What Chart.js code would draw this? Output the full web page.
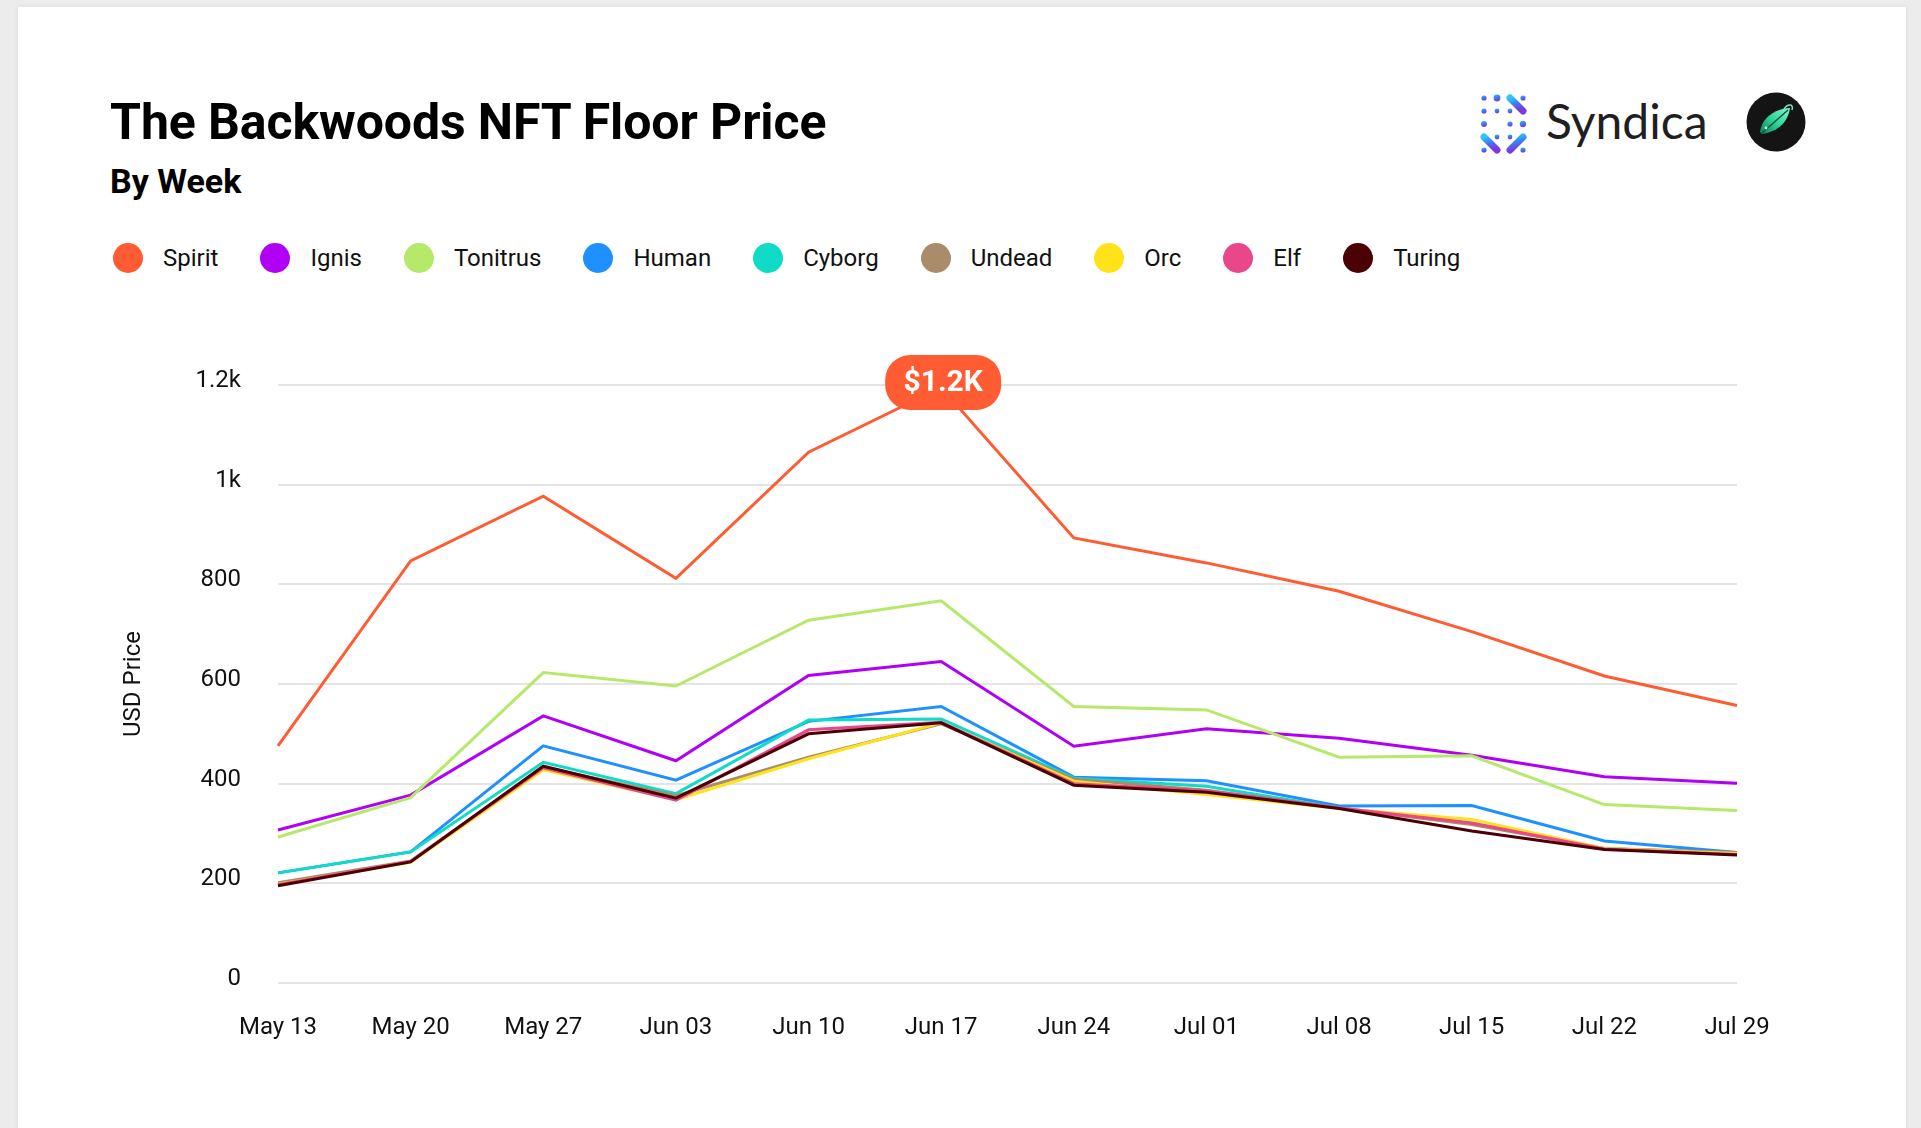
<!DOCTYPE html>
<html>
<head>
<meta charset="utf-8">
<script src="https://cdn.jsdelivr.net/npm/chart.js@4.4.1/dist/chart.umd.min.js"></script>
<style>
html,body{margin:0;padding:0;width:1921px;height:1128px;overflow:hidden;background:#ececec;font-family:Roboto,sans-serif;}
#card{position:absolute;left:18px;top:7px;width:1888px;height:1140px;background:#fff;box-shadow:0 0 5px rgba(0,0,0,0.07);}
#title{position:absolute;left:110px;top:97px;font:700 50px/50px Roboto;color:#000;white-space:nowrap;letter-spacing:-0.1px;}
#sub{position:absolute;left:110px;top:164px;font:700 34px/34px Roboto;color:#000;white-space:nowrap;}
#legend{position:absolute;left:113px;top:243px;height:30px;display:flex;align-items:center;}
.item{display:flex;align-items:center;margin-right:42px;}
.dot{width:30px;height:30px;border-radius:50%;margin-right:20px;}
.lbl{font:400 24px/24px Roboto;color:#111;white-space:nowrap;}
#syn{position:absolute;left:1479px;top:92px;}
#synText{position:absolute;left:1546px;top:97px;font:400 48px/48px Lato;color:#1f1f1f;white-space:nowrap;}
#badge{position:absolute;left:1746px;top:92px;}
#chart{position:absolute;left:0;top:0;}
</style>
</head>
<body>
<div id="card"></div>
<div id="title">The Backwoods NFT Floor Price</div>
<div id="sub">By Week</div>
<div id="legend"></div>
<svg id="syn" width="52" height="62" viewBox="0 0 52 62">
  <defs>
    <linearGradient id="sg" x1="0" y1="0" x2="0.3" y2="1">
      <stop offset="0" stop-color="#2cc9f5"/>
      <stop offset="0.5" stop-color="#3b7ff0"/>
      <stop offset="1" stop-color="#7a3ae0"/>
    </linearGradient>
  </defs>
  <g fill="url(#sg)" stroke="url(#sg)" stroke-linecap="round">
    <circle cx="5" cy="6" r="2.6" stroke="none"/>
    <circle cx="5" cy="19" r="2.6" stroke="none"/>
    <circle cx="18" cy="6" r="3.4" stroke="none"/>
    <line x1="31" y1="6" x2="44" y2="19" stroke-width="7"/>
    <circle cx="44" cy="6" r="2.6" stroke="none"/>
    <circle cx="18" cy="19" r="2.4" stroke="none"/>
    <circle cx="31" cy="19" r="2.4" stroke="none"/>
    <circle cx="5" cy="32" r="3" stroke="none"/>
    <circle cx="31" cy="32" r="2.6" stroke="none"/>
    <circle cx="44" cy="32" r="3.2" stroke="none"/>
    <line x1="5" y1="45" x2="18" y2="58" stroke-width="7"/>
    <circle cx="18" cy="45" r="2.4" stroke="none"/>
    <circle cx="31" cy="45" r="2.4" stroke="none"/>
    <line x1="44" y1="45" x2="31" y2="58" stroke-width="7"/>
    <circle cx="5" cy="58" r="2.6" stroke="none"/>
    <circle cx="44" cy="58" r="2.6" stroke="none"/>
  </g>
</svg>
<div id="synText">Syndica</div>
<svg id="badge" width="60" height="60" viewBox="0 0 60 60">
  <defs>
    <linearGradient id="lg" x1="0" y1="1" x2="1" y2="0">
      <stop offset="0" stop-color="#0c7d5a"/>
      <stop offset="0.5" stop-color="#2fd69a"/>
      <stop offset="1" stop-color="#8af5cf"/>
    </linearGradient>
  </defs>
  <circle cx="30" cy="30" r="29.5" fill="#141414"/>
  <path d="M14 40 C16 26 28 17 44 16 C42 30 32 40 16 42 Z" fill="url(#lg)"/>
  <path d="M16 41 C24 34 32 27 42 18" stroke="#0a4f3a" stroke-width="1.3" fill="none"/>
  <path d="M38 17 C42 11 48 12 46 18" stroke="#6fe8c0" stroke-width="1.5" fill="none"/>
  <circle cx="20" cy="36" r="1.4" fill="#d9fff0"/>
</svg>
<canvas id="chart" width="1921" height="1128"></canvas>
<script>
// ---- data ----
const weeks = ['May 13','May 20','May 27','Jun 03','Jun 10','Jun 17','Jun 24','Jul 01','Jul 08','Jul 15','Jul 22','Jul 29'];
const seriesNames = ['Spirit','Ignis','Tonitrus','Human','Cyborg','Undead','Orc','Elf','Turing'];
const spirit   = [476, 847, 977, 812, 1065, 1195, 893, 843, 786, 705, 616, 557];
const ignis    = [307, 377, 536, 446, 617, 645, 475, 510, 491, 457, 414, 401];
const tonitrus = [293, 372, 623, 596, 728, 767, 555, 548, 453, 456, 358, 346];
const human    = [221, 263, 476, 407, 525, 555, 413, 406, 355, 356, 285, 262];
const cyborg   = [221, 263, 443, 380, 528, 530, 411, 395, 351, 320, 270, 260];
const undead   = [201, 245, 433, 376, 453, 520, 409, 387, 351, 318, 270, 262];
const orc      = [198, 242, 428, 368, 450, 522, 405, 378, 350, 328, 270, 260];
const elf      = [197, 244, 432, 367, 508, 523, 400, 386, 351, 321, 269, 258];
const turing   = [195, 243, 435, 371, 500, 522, 397, 383, 350, 305, 268, 257];
const yTicks   = [0, 200, 400, 600, 800, 1000, 1200];
const seriesColors = ['#ff5c33','#b000f5','#b6e86a','#1e90ff','#0edcc6','#a98c69','#ffe21a','#e8488a','#4a0005'];
const seriesValues = [spirit, ignis, tonitrus, human, cyborg, undead, orc, elf, turing];

// ---- legend ----
const leg = document.getElementById('legend');
seriesNames.forEach((n,i)=>{
  const it = document.createElement('div'); it.className='item';
  const d = document.createElement('div'); d.className='dot'; d.style.background=seriesColors[i];
  const t = document.createElement('div'); t.className='lbl'; t.textContent=n;
  it.appendChild(d); it.appendChild(t); leg.appendChild(it);
});

const peakLabel = {
  id:'peakLabel',
  afterDatasetsDraw(chart){
    const ds = chart.data.datasets[0];
    const vals = ds.data;
    let mi = 0; vals.forEach((v,i)=>{ if(v>vals[mi]) mi=i; });
    const pt = chart.getDatasetMeta(0).data[mi];
    const ctx = chart.ctx;
    const w=116, h=55, r=25;
    const cx = pt.x + 2, cy = pt.y - 5;
    ctx.save();
    ctx.fillStyle = ds.borderColor;
    ctx.beginPath();
    ctx.roundRect(cx-w/2, cy-h/2, w, h, r);
    ctx.fill();
    ctx.fillStyle = '#fff';
    ctx.font = '700 30px Roboto';
    ctx.textAlign = 'center';
    ctx.textBaseline = 'middle';
    ctx.fillText('$' + (vals[mi]/1000).toFixed(1) + 'K', cx, cy+1);
    ctx.restore();
  }
};

function draw(){
  new Chart(document.getElementById('chart'), {
    type:'line',
    data:{
      labels: weeks,
      datasets: seriesNames.map((n,i)=>({
        label:n, data:seriesValues[i], borderColor:seriesColors[i], backgroundColor:seriesColors[i],
        borderWidth:3, pointRadius:0, pointHoverRadius:0, tension:0, fill:false,
        order: seriesNames.length-1-i
      }))
    },
    options:{
      responsive:false, animation:false, devicePixelRatio:1,
      layout:{padding:{left:110, top:385, right:184, bottom:0}},
      plugins:{legend:{display:false}, tooltip:{enabled:false}},
      scales:{
        x:{
          grid:{display:false}, border:{display:false},
          ticks:{padding:23, color:'#111', font:{family:'Roboto', size:24}, maxRotation:0, autoSkip:false},
          afterFit(s){ s.height = 145; }
        },
        y:{
          min:0, max:1200,
          grid:{color:'#e4e4e4', lineWidth:2, drawTicks:false},
          border:{display:false},
          afterBuildTicks(s){ s.ticks = yTicks.map(v=>({value:v})); },
          ticks:{padding:37, labelOffset:-4, color:'#111', font:{family:'Roboto', size:24},
            callback:v=> v>=1000 ? (v/1000)+'k' : v},
          title:{display:true, text:'USD Price', color:'#111', font:{family:'Roboto', size:24}, padding:{top:10,bottom:0}},
          afterFit(s){ s.width = 168; }
        }
      }
    },
    plugins:[peakLabel]
  });
}
Promise.all([
  document.fonts.load('24px Roboto'),
  document.fonts.load('700 30px Roboto'),
  document.fonts.load('700 50px Roboto'),
  document.fonts.load('48px Lato')
]).then(draw, draw);
</script>
</body>
</html>
